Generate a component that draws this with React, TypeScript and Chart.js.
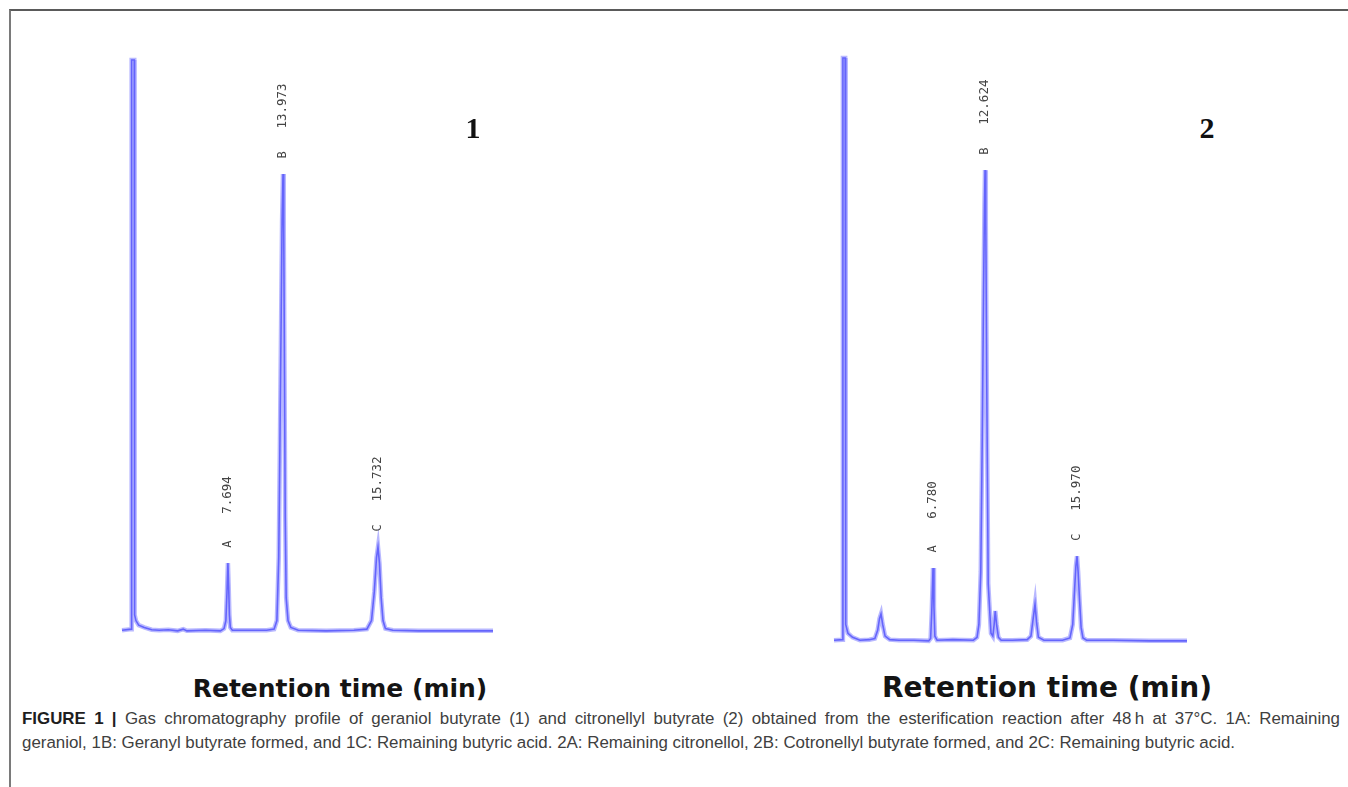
import React, { useEffect, useRef } from "react";
import { Chart, registerables } from "chart.js";

Chart.register(...registerables);

// ---- Panel 1 : geraniol butyrate (retention axis in arbitrary minutes, signal in % of full scale)
const panel1Times = [
  0, 0.5, 0.52, 0.66, 0.68, 0.75, 0.9, 1.2, 1.6, 2.0, 2.5, 3.0, 3.3, 3.5, 4.5, 5.3,
  5.5, 5.6, 5.66, 5.71, 5.75, 5.79, 5.84, 5.95, 6.5, 7.0, 7.8, 8.2, 8.35, 8.45, 8.52, 8.58,
  8.63, 8.68, 8.72, 8.76, 8.8, 8.85, 8.95, 9.1, 9.5, 11, 12.5, 13.2, 13.45, 13.6,
  13.72, 13.8, 13.88, 13.97, 14.07, 14.2, 14.6, 16, 18, 20,
];
const panel1Signal = [
  0.3, 0.5, 100, 100, 3, 2, 1.2, 0.8, 0.4, 0.3, 0.4, 0.2, 0.5, 0.2, 0.3, 0.2,
  0.6, 2, 7, 12.06, 8, 3, 0.8, 0.3, 0.3, 0.3, 0.3, 0.5, 2, 13, 35, 55,
  72, 80.07, 70, 45, 20, 6, 2, 0.8, 0.3, 0.2, 0.3, 0.5, 2, 7,
  13, 14.86, 12, 6, 2, 0.6, 0.3, 0.2, 0.2, 0.2,
];
const panel1PeakTimes = [5.71, 8.68, 13.8];
const panel1PeakLabels = ["7.694", "13.973", "15.732"];
const panel1PeakLetters = ["A", "B", "C"];

// ---- Panel 2 : citronellyl butyrate
const panel2Times = [
  0, 0.45, 0.48, 0.6, 0.63, 0.75, 1.0, 1.4, 1.9, 2.2, 2.35, 2.45, 2.53, 2.62, 2.75,
  3.0, 3.5, 4.3, 5.1, 5.2, 5.26, 5.33, 5.38, 5.43, 5.55, 6.4, 7.5, 7.7, 7.8, 7.9,
  7.98, 8.05, 8.1, 8.13, 8.17, 8.22, 8.3, 8.45, 8.55, 8.62, 8.68, 8.75, 8.85, 9.0,
  9.6, 10.4, 10.6, 10.72, 10.82, 10.9, 11.0, 11.3, 12.3, 12.7, 12.85, 12.95, 13.02,
  13.08, 13.14, 13.22, 13.3, 13.4, 13.6, 15, 17, 19,
];
const panel2Signal = [
  0.3, 0.4, 100, 100, 3, 1.5, 0.8, 0.3, 0.4, 0.6, 2, 4, 4.8, 3, 1,
  0.4, 0.3, 0.3, 0.2, 0.6, 5, 12.67, 6, 1, 0.3, 0.4, 0.3, 0.8, 3, 12,
  35, 60, 75, 80.8, 72, 45, 10, 1.5, 1, 3, 5.3, 3, 0.8, 0.3,
  0.3, 0.4, 1, 4, 6.5, 3.5, 0.8, 0.3, 0.3, 0.7, 3, 9, 13,
  14.7, 12, 7, 2.5, 0.7, 0.3, 0.3, 0.2, 0.2,
];
const panel2PeakTimes = [5.33, 8.13, 13.08];
const panel2PeakLabels = ["6.780", "12.624", "15.970"];
const panel2PeakLetters = ["A", "B", "C"];

const captionLine1Bold = "FIGURE 1 |";
const captionLine1 =
  " Gas chromatography profile of geraniol butyrate (1) and citronellyl butyrate (2) obtained from the esterification reaction after 48\u2009h at 37\u00b0C. 1A: Remaining";
const captionLine2 =
  "geraniol, 1B: Geranyl butyrate formed, and 1C: Remaining butyric acid. 2A: Remaining citronellol, 2B: Cotronellyl butyrate formed, and 2C: Remaining butyric acid.";
const axisTitle = "Retention time (min)";

type PanelProps = {
  left: number;
  top: number;
  width: number;
  height: number;
  xMax: number;
  times: number[];
  signal: number[];
  peakTimes: number[];
  peakLabels: string[];
  peakLetters: string[];
};

function Chromatogram(props: PanelProps) {
  const ref = useRef<HTMLCanvasElement | null>(null);
  useEffect(() => {
    const canvas = ref.current;
    if (!canvas) return;
    const pts = props.times.map((t, i) => ({ x: t, y: props.signal[i] }));
    const labelPlugin = {
      id: "peakLabels",
      afterDatasetsDraw(chart: any) {
        const ctx = chart.ctx;
        const xs = chart.scales.x;
        const ys = chart.scales.y;
        ctx.save();
        ctx.fillStyle = "#444";
        ctx.textAlign = "center";
        ctx.textBaseline = "middle";
        props.peakTimes.forEach((t, k) => {
          const idx = props.times.indexOf(t);
          const px = xs.getPixelForValue(t);
          const py = ys.getPixelForValue(props.signal[idx]);
          const drawRot = (txt: string, y: number, font: string) => {
            ctx.save();
            ctx.translate(px, y);
            ctx.rotate(-Math.PI / 2);
            ctx.font = font;
            ctx.fillText(txt, 0, 0);
            ctx.restore();
          };
          drawRot(props.peakLetters[k], py - 19, "12px 'DejaVu Sans Mono'");
          drawRot(props.peakLabels[k], py - 68, "12.5px 'DejaVu Sans Mono'");
        });
        ctx.restore();
      },
    };
    const chart = new Chart(canvas, {
      type: "line",
      data: {
        datasets: [
          {
            data: pts,
            borderColor: "rgba(125,125,255,0.55)",
            borderWidth: 4.5,
            pointRadius: 0,
            tension: 0,
            clip: false,
          } as any,
          {
            data: pts,
            borderColor: "rgb(70,70,248)",
            borderWidth: 1.6,
            pointRadius: 0,
            tension: 0,
            clip: false,
          } as any,
        ],
      },
      options: {
        responsive: false,
        animation: false,
        devicePixelRatio: 1,
        layout: { padding: 6 },
        plugins: { legend: { display: false }, tooltip: { enabled: false } },
        scales: {
          x: { type: "linear", min: 0, max: props.xMax, display: false },
          y: { min: 0, max: 100, display: false },
        },
      },
      plugins: [labelPlugin],
    });
    return () => chart.destroy();
  }, []);
  return (
    <canvas
      ref={ref}
      width={props.width}
      height={props.height}
      style={{
        position: "absolute",
        left: props.left,
        top: props.top,
        width: props.width,
        height: props.height,
      }}
    />
  );
}

const titleStyle = (cx: number, cy: number, size: number): React.CSSProperties => ({
  position: "absolute",
  left: cx,
  top: cy,
  transform: "translate(-50%, -50%)",
  fontFamily: "'DejaVu Sans', sans-serif",
  fontWeight: "bold",
  fontSize: size,
  lineHeight: 1,
  color: "#141414",
  whiteSpace: "nowrap",
});

const panelNumStyle = (cx: number, cy: number): React.CSSProperties => ({
  position: "absolute",
  left: cx,
  top: cy,
  transform: "translate(-50%, -50%)",
  fontFamily: "'Liberation Serif', serif",
  fontWeight: "bold",
  fontSize: 30,
  lineHeight: 1,
  color: "#111",
});

export default function App() {
  return (
    <div
      style={{
        position: "absolute",
        left: 0,
        top: 0,
        width: 1348,
        height: 787,
        background: "#fff",
        overflow: "hidden",
      }}
    >
      <div
        style={{
          position: "absolute",
          left: 9,
          top: 9,
          width: 1348,
          height: 800,
          borderTop: "2px solid #5a5a5a",
          borderLeft: "2px solid #7a7a7a",
        }}
      />
      <Chromatogram
        left={116}
        top={54}
        width={383}
        height={584}
        xMax={20}
        times={panel1Times}
        signal={panel1Signal}
        peakTimes={panel1PeakTimes}
        peakLabels={panel1PeakLabels}
        peakLetters={panel1PeakLetters}
      />
      <Chromatogram
        left={828}
        top={52}
        width={365}
        height={596}
        xMax={19}
        times={panel2Times}
        signal={panel2Signal}
        peakTimes={panel2PeakTimes}
        peakLabels={panel2PeakLabels}
        peakLetters={panel2PeakLetters}
      />
      <div style={panelNumStyle(473, 128)}>1</div>
      <div style={panelNumStyle(1207, 128)}>2</div>
      <div style={titleStyle(340, 688, 25)}>{axisTitle}</div>
      <div style={titleStyle(1047, 688, 28)}>{axisTitle}</div>
      <div
        style={{
          position: "absolute",
          left: 22,
          top: 707,
          width: 1318,
          fontFamily: "'Liberation Sans', sans-serif",
          fontSize: 16.9,
          lineHeight: "24px",
          color: "#404040",
        }}
      >
        <div style={{ textAlign: "justify", textAlignLast: "justify", whiteSpace: "normal" }}>
          <span style={{ fontWeight: "bold", color: "#1e1e1e" }}>{captionLine1Bold}</span>
          {captionLine1}
        </div>
        <div style={{ whiteSpace: "nowrap" }}>{captionLine2}</div>
      </div>
    </div>
  );
}
